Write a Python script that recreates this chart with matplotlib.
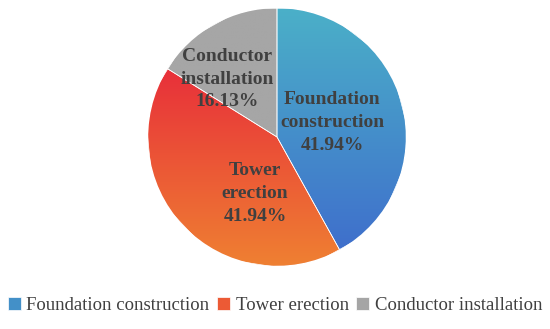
import numpy as np
import matplotlib.pyplot as plt
from matplotlib.colors import LinearSegmentedColormap

labels = ["Foundation construction", "Tower erection", "Conductor installation"]
values = [41.94, 41.94, 16.13]
pct_text = ["41.94%", "41.94%", "16.13%"]
# label text inside the pie (Excel style line breaks)
inner_labels = ["Foundation\nconstruction", "Tower\nerection", "Conductor\ninstallation"]
label_pos = [(0.43, 0.115), (-0.17, -0.44), (-0.385, 0.45)]
# gradient colours, top -> bottom
grad_colors = [("#4bb0c8", "#3f6fcc"), ("#e8303a", "#ef8032"), ("#a6a6a6", "#a6a6a6")]
flat_colors = ["#4390c8", "#ec5a35", "#a5a5a5"]

fig = plt.figure(figsize=(5.5, 3.29), dpi=100)
cx, cy, r = 277, 137, 130
ax = fig.add_axes([(cx - r) / 550, 1 - (cy + r) / 329, 2 * r / 550, 2 * r / 329])

wedges, _ = ax.pie(values, colors=flat_colors, startangle=90, counterclock=False,
                   radius=1, wedgeprops=dict(edgecolor="white", linewidth=0.5))

# vertical gradient inside each wedge
for w, (c1, c2) in zip(wedges, grad_colors):
    cmap = LinearSegmentedColormap.from_list("g", [c1, c2])
    bb = w.get_path().get_extents()
    grad = np.linspace(0, 1, 256).reshape(-1, 1)
    im = ax.imshow(grad, cmap=cmap, extent=[bb.x0, bb.x1, bb.y0, bb.y1],
                   origin="upper", aspect="auto", zorder=w.get_zorder() + 0.1)
    im.set_clip_path(w)

for w in wedges:
    edge = plt.Polygon(w.get_path().vertices, closed=True, fill=False,
                       edgecolor="white", linewidth=0.5, zorder=5)
    ax.add_patch(edge)

for txt, pct, (x, y) in zip(inner_labels, pct_text, label_pos):
    ax.text(x, y, txt + "\n" + pct, ha="center", va="center", fontsize=14,
            fontweight="bold", family="Liberation Serif", color="#404040",
            linespacing=1.45, zorder=10)

ax.set_xlim(-1.01, 1.01)
ax.set_ylim(-1.01, 1.01)
ax.set_aspect("equal")
ax.axis("off")

fig.legend(wedges, labels, loc="center", bbox_to_anchor=(0.5, 0.072), ncol=3,
           frameon=False, prop={"family": "Liberation Serif", "size": 13.5},
           handlelength=0.7, handleheight=0.7, handletextpad=0.3, columnspacing=0.4,
           labelcolor="#404040")

fig.savefig("out.png", dpi=100)
